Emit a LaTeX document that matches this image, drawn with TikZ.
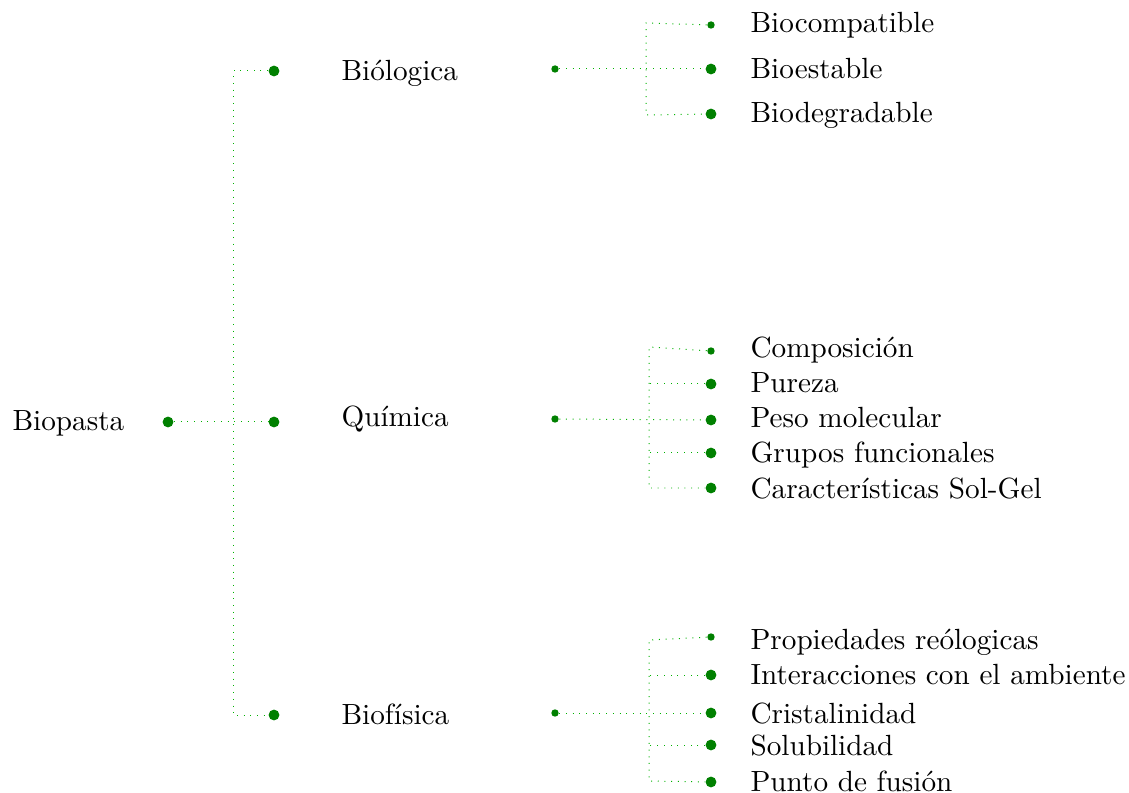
\documentclass[tikz,border=0pt]{standalone}
\begin{document}
\begin{tikzpicture}[x=0.351pt,y=-0.351pt,
  big/.style={circle,fill=green!50!black,inner sep=0pt,minimum size=3.8pt},
  small/.style={circle,fill=green!50!black,inner sep=0pt,minimum size=2.6pt},
  lab/.style={anchor=base west,inner sep=0pt,font=\fontsize{10.25}{12}\selectfont},
  link/.style={green!70!black,dotted,line width=0.35pt}]
\useasboundingbox (0,0) rectangle (1129,793);
% root
\node[lab] (root) at (12,431) {Biopasta};
\node[big] (r) at (168,422) {};
% level 1
\node[big] (b1) at (274,71) {};
\node[big] (b2) at (274,422) {};
\node[big] (b3) at (274,715) {};
\node[lab] (t1) at (341,81) {Biólogica};
\node[lab] (t2) at (341,427) {Química};
\node[lab] (t3) at (341,725) {Biofísica};
\coordinate (v1) at (233,71);
\coordinate (v2) at (233,422);
\coordinate (v3) at (233,715);
\draw[link] (r) -- (b2);
\draw[link] (b1) -- (v1) -- (v3) -- (b3);
% level 1 small dots
\node[small] (s1) at (555,69) {};
\node[small] (s2) at (555,419) {};
\node[small] (s3) at (555,713) {};
% group 1
\node[small] (l11) at (711,25) {};
\node[big] (l12) at (711,69) {};
\node[big] (l13) at (711,114) {};
\node[lab] at (750,33) {Biocompatible};
\node[lab] at (750,79) {Bioestable};
\node[lab] at (750,123) {Biodegradable};
\coordinate (g1a) at (646,23);
\coordinate (g1b) at (646,115);
\draw[link] (s1) -- (l12);
\draw[link] (l11) -- (g1a) -- (g1b) -- (l13);
% group 2
\node[small] (l21) at (711,351) {};
\node[big] (l22) at (711,384) {};
\node[big] (l23) at (711,420) {};
\node[big] (l24) at (711,453) {};
\node[big] (l25) at (711,488) {};
\node[lab] at (750,358) {Composición};
\node[lab] at (750,393) {Pureza};
\node[lab] at (750,428) {Peso molecular};
\node[lab] at (750,463) {Grupos funcionales};
\node[lab] at (750,499) {Características Sol-Gel};
\coordinate (g2a) at (649,347);
\coordinate (g2b) at (649,488);
\coordinate (g2c) at (649,384);
\coordinate (g2d) at (649,453);
\draw[link] (s2) -- (l23);
\draw[link] (l21) -- (g2a) -- (g2b) -- (l25);
\draw[link] (l22) -- (g2c);
\draw[link] (l24) -- (g2d);
% group 3
\node[small] (l31) at (711,637) {};
\node[big] (l32) at (711,675) {};
\node[big] (l33) at (711,713) {};
\node[big] (l34) at (711,745) {};
\node[big] (l35) at (711,782) {};
\node[lab] at (750,650) {Propiedades reólogicas};
\node[lab] at (750,685) {Interacciones con el ambiente};
\node[lab] at (750,724) {Cristalinidad};
\node[lab] at (750,755) {Solubilidad};
\node[lab] at (750,791) {Punto de fusión};
\coordinate (g3a) at (649,640);
\coordinate (g3b) at (649,781);
\coordinate (g3c) at (649,675);
\coordinate (g3d) at (649,745);
\draw[link] (s3) -- (l33);
\draw[link] (l31) -- (g3a) -- (g3b) -- (l35);
\draw[link] (l32) -- (g3c);
\draw[link] (l34) -- (g3d);
\end{tikzpicture}
\end{document}
